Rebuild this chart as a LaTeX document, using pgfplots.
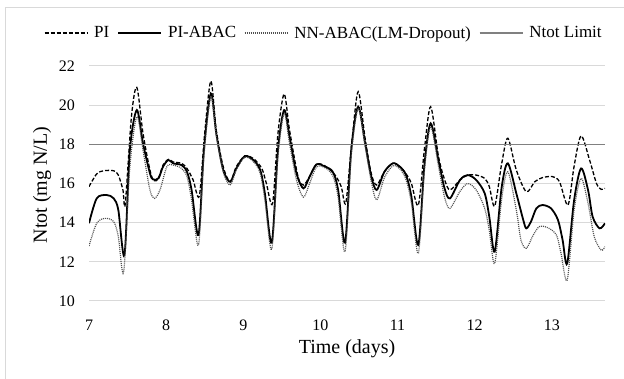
\documentclass[border=0pt]{standalone}
\usepackage{pgfplots}
\pgfplotsset{compat=1.18}
\usepackage{fontspec}
\setmainfont{Liberation Serif}
\definecolor{gridgray}{RGB}{217,217,217}
\definecolor{limitgray}{RGB}{128,128,128}
\definecolor{dotgray}{RGB}{80,80,80}
\begin{document}
\begin{tikzpicture}[x=1pt,y=1pt]
\useasboundingbox (0,0) rectangle (624,379);
\fill[white] (0,0) rectangle (624,379);
\draw[gridgray, line width=1pt] (5.5,-5) -- (5.5,371.5) -- (630,371.5);
\begin{axis}[
 at={(89pt,78pt)}, anchor=south west,
 scale only axis, width=516pt, height=235pt,
 xmin=7, xmax=13.69, ymin=10, ymax=22,
 xtick={7,8,9,10,11,12,13}, ytick={10,12,14,16,18,20,22},
 ymajorgrids, grid style={gridgray, line width=1pt},
 axis line style={draw=none}, major tick length=0pt,
 /pgf/number format/assume math mode=true,
 tick label style={font=\fontsize{16}{18}\selectfont},
 xticklabel style={anchor=center, yshift=-24pt},
 yticklabel style={anchor=east, inner sep=0pt, xshift=-14pt},
 xlabel={Time (days)}, ylabel={Ntot (mg N/L)},
 label style={font=\fontsize{20}{24}\selectfont},
 xlabel style={at={(axis description cs:0.5,-0.204)}, anchor=center},
 ylabel style={at={(axis description cs:-0.091,0.494)}, anchor=center},
 legend columns=4,
 legend style={at={(0.455,1.14)}, anchor=center, draw=none, fill=none,
   font=\fontsize{17}{20}\selectfont,
   /tikz/every even column/.append style={column sep=6pt}},
 legend image code/.code={\draw[#1] (0pt,0pt) -- (43pt,0pt);},
]
\addplot[black, line width=1.3pt, dash pattern=on 4pt off 2pt, smooth, tension=0.5] coordinates {
(7.00,15.84) (7.10,16.49) (7.19,16.65) (7.32,16.65) (7.38,16.43) (7.44,15.67) (7.47,14.95) (7.55,19.4) (7.62,20.91) (7.70,18.56) (7.79,16.69) (7.84,16.14) (7.90,16.26) (7.96,16.94) (8.03,17.23) (8.09,17.1) (8.20,17.03) (8.27,16.77) (8.35,16.18) (8.43,15.36) (8.50,18.56) (8.58,21.23) (8.65,18.73) (8.74,16.86) (8.83,16.09) (8.91,16.86) (9.02,17.40) (9.13,17.28) (9.24,16.77) (9.30,16.0) (9.38,14.99) (9.45,18.56) (9.53,20.57) (9.60,18.73) (9.71,16.35) (9.78,15.92) (9.86,16.35) (9.95,16.98) (10.06,16.9) (10.19,16.43) (10.27,15.84) (10.33,15.02) (10.41,18.2) (10.49,20.69) (10.58,18.3) (10.66,16.5) (10.73,15.92) (10.83,16.6) (10.94,17.03) (11.03,16.86) (11.11,16.5) (11.18,16.0) (11.27,14.9) (11.35,17.8) (11.43,19.92) (11.53,17.4) (11.61,16.2) (11.68,15.67) (11.81,16.18) (11.91,16.43) (12.02,16.43) (12.13,16.26) (12.19,15.84) (12.26,14.85) (12.35,17.0) (12.43,18.31) (12.54,16.69) (12.67,15.58) (12.78,16.09) (12.88,16.3) (13.01,16.35) (13.10,16.09) (13.21,14.9) (13.29,16.9) (13.38,18.43) (13.49,17.2) (13.58,16.0) (13.64,15.7) (13.69,15.75)
};
\addlegendentry{\hspace{4pt}PI}
\addplot[black, line width=1.8pt, smooth, tension=0.5] coordinates {
(7.00,13.97) (7.10,15.24) (7.23,15.41) (7.32,15.24) (7.38,14.65) (7.46,12.35) (7.53,17.71) (7.62,19.75) (7.70,18.05) (7.79,16.52) (7.83,16.21) (7.90,16.26) (7.96,16.86) (8.03,17.2) (8.09,17.03) (8.20,16.94) (8.27,16.6) (8.33,15.67) (8.42,13.37) (8.49,17.71) (8.58,20.6) (8.65,18.56) (8.74,16.69) (8.83,16.09) (8.91,16.77) (9.02,17.4) (9.13,17.2) (9.22,16.69) (9.28,15.5) (9.37,12.98) (9.45,17.71) (9.53,19.75) (9.60,18.39) (9.69,16.52) (9.78,15.75) (9.86,16.35) (9.95,16.98) (10.06,16.86) (10.16,16.6) (10.23,15.67) (10.32,12.98) (10.40,17.71) (10.49,19.92) (10.58,18.05) (10.66,16.35) (10.73,15.67) (10.83,16.6) (10.94,17.03) (11.03,16.86) (11.11,16.43) (11.18,15.33) (11.27,12.86) (11.35,17.0) (11.43,19.07) (11.53,17.2) (11.61,15.75) (11.68,15.24) (11.81,16.18) (11.91,16.43) (12.02,16.18) (12.13,15.5) (12.19,14.3) (12.26,12.52) (12.35,15.8) (12.43,17.03) (12.54,15.5) (12.63,14.14) (12.67,13.71) (12.73,14.05) (12.80,14.73) (12.88,14.9) (12.99,14.73) (13.08,14.14) (13.14,13.12) (13.20,11.92) (13.29,15.16) (13.38,16.77) (13.47,15.67) (13.53,14.3) (13.62,13.71) (13.69,13.97)
};
\addlegendentry{\hspace{4pt}PI-ABAC}
\addplot[dotgray, line width=1.2pt, dash pattern=on 1pt off 1pt, smooth, tension=0.5] coordinates {
(7.00,12.81) (7.10,13.97) (7.21,14.22) (7.32,14.05) (7.38,13.29) (7.45,11.5) (7.53,16.86) (7.62,19.41) (7.70,17.71) (7.79,15.67) (7.85,15.24) (7.92,15.67) (8.01,16.86) (8.09,16.94) (8.20,16.77) (8.27,16.35) (8.33,15.16) (8.42,12.86) (8.49,17.37) (8.58,20.43) (8.65,18.48) (8.74,16.6) (8.83,15.92) (8.91,16.69) (9.02,17.34) (9.13,17.12) (9.22,16.52) (9.28,15.16) (9.37,12.64) (9.45,17.37) (9.53,19.58) (9.60,18.05) (9.69,16.18) (9.78,15.3) (9.86,16.0) (9.95,16.85) (10.06,16.8) (10.16,16.4) (10.23,15.3) (10.32,12.52) (10.40,17.4) (10.49,19.84) (10.58,17.9) (10.66,16.1) (10.73,15.16) (10.83,16.3) (10.94,16.9) (11.03,16.75) (11.11,16.2) (11.18,15.0) (11.27,12.43) (11.35,16.7) (11.43,18.9) (11.53,16.9) (11.61,15.3) (11.68,14.73) (11.81,15.6) (11.91,16.0) (12.02,15.67) (12.13,14.73) (12.19,13.6) (12.26,11.92) (12.35,15.2) (12.43,16.6) (12.54,14.65) (12.60,13.12) (12.67,12.69) (12.76,13.37) (12.84,13.8) (12.95,13.74) (13.06,13.37) (13.12,12.43) (13.20,11.07) (13.29,14.65) (13.38,16.26) (13.47,14.99) (13.55,13.29) (13.64,12.6) (13.69,12.77)
};
\addlegendentry{\hspace{4pt}NN-ABAC(LM-Dropout)}
\addplot[limitgray, line width=1.5pt] coordinates {(7,18) (13.69,18)};
\addlegendentry{\hspace{4pt}Ntot Limit}
\end{axis}
\end{tikzpicture}
\end{document}
